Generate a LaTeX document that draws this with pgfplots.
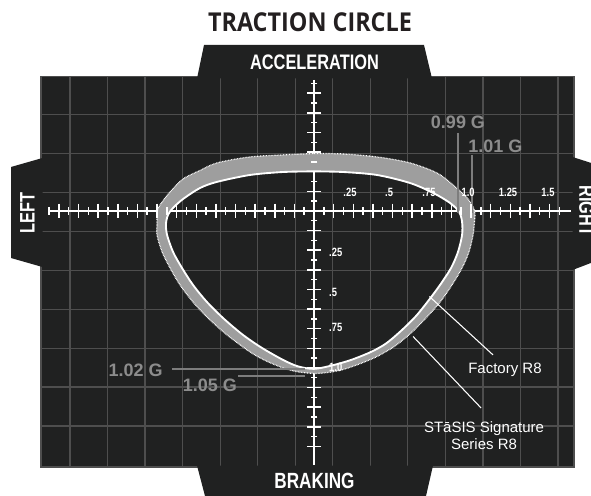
\documentclass[border=0pt]{standalone}
\usepackage{pgfplots}
\pgfplotsset{compat=1.18}
\usepackage{pgfplotstable}
\usepackage{fontspec}
\setmainfont{Liberation Sans}
\newfontfamily\titlefont[FakeStretch=0.9]{Open Sans}
\newfontfamily\condfont[FakeStretch=0.78]{Liberation Sans}

\definecolor{bg}{RGB}{32,33,33}
\definecolor{gridc}{RGB}{78,78,78}
\definecolor{bandc}{RGB}{158,158,158}
\definecolor{glab}{RGB}{140,140,140}
\definecolor{gline}{RGB}{125,125,125}
\definecolor{titlec}{RGB}{35,31,32}

% STaSIS Signature Series R8 (outer), lateral G vs longitudinal G
\pgfplotstableread{
x y
0 0.366
0.185 0.363
0.401 0.344
0.611 0.306
0.783 0.242
0.885 0.166
0.975 0.083
1.013 0.025
1.025 -0.013
1.022 -0.070
1.013 -0.153
0.987 -0.261
0.943 -0.363
0.879 -0.471
0.803 -0.580
0.713 -0.682
0.618 -0.777
0.516 -0.860
0.408 -0.924
0.299 -0.971
0.185 -1.010
0.089 -1.029
0 -1.035
-0.102 -1.025
-0.197 -1.000
-0.306 -0.955
-0.408 -0.898
-0.554 -0.790
-0.669 -0.688
-0.771 -0.580
-0.854 -0.471
-0.917 -0.363
-0.968 -0.261
-1.000 -0.153
-1.000 -0.083
-1.000 -0.006
-0.981 0.038
-0.917 0.121
-0.834 0.204
-0.726 0.258
-0.618 0.306
-0.408 0.344
-0.197 0.357
0 0.366
}\outer

% Factory R8 (inner)
\pgfplotstableread{
x y
0 0.252
0.185 0.248
0.401 0.229
0.611 0.178
0.758 0.115
0.866 0.051
0.924 -0.006
0.943 -0.070
0.943 -0.153
0.917 -0.261
0.873 -0.363
0.803 -0.471
0.732 -0.567
0.650 -0.669
0.554 -0.764
0.459 -0.844
0.363 -0.898
0.236 -0.949
0.115 -0.984
0 -1.006
-0.102 -0.990
-0.197 -0.949
-0.331 -0.873
-0.452 -0.790
-0.573 -0.688
-0.682 -0.580
-0.771 -0.471
-0.841 -0.363
-0.898 -0.261
-0.936 -0.153
-0.943 -0.083
-0.930 -0.025
-0.898 0.019
-0.834 0.076
-0.726 0.146
-0.618 0.185
-0.408 0.229
-0.197 0.248
0 0.252
}\inner

\pgfplotstableread{
x y
nan nan
}\gap
\pgfplotstablevertcat{\band}{\outer}
\pgfplotstablevertcat{\band}{\gap}
\pgfplotstablevertcat{\band}{\inner}

\begin{document}
\begin{tikzpicture}[
  tl/.style={font=\condfont\bfseries\fontsize{9}{9}\selectfont, text=white, inner sep=0pt},
  gl/.style={font=\bfseries\fontsize{13.5}{14}\selectfont, text=glab, inner sep=0pt},
  wl/.style={font=\fontsize{11.25}{12}\selectfont, text=white, inner sep=0pt},
]
\useasboundingbox (0,0) rectangle (443.25pt,-371.25pt);
\begin{axis}[
  at={(30.75pt,-350.25pt)}, anchor=south west,
  x=117.75pt, y=117.75pt,
  xmin=-1.739, xmax=1.656, ymin=-1.631, ymax=0.854,
  axis background/.style={fill=bg},
  axis line style={gridc, line width=0.9pt},
  xtick={-1.5542,-1.3151,-1.0760,-0.8369,-0.5978,-0.3587,-0.1196,0.1196,0.3587,0.5978,0.8369,1.0760,1.3151,1.5542},
  ytick={-1.370,-1.122,-0.874,-0.626,-0.378,-0.130,0.118,0.366,0.614},
  xticklabels={}, yticklabels={},
  major tick length=0pt,
  grid=major, grid style={gridc, line width=0.9pt},
  clip=false,
  unbounded coords=jump,
]
% cross
\addplot[white, line width=2pt] coordinates {(-1.694,0) (1.637,0)};
\addplot[white, line width=2pt] coordinates {(0,0.834) (0,-1.618)};
% horizontal ticks
\addplot[only marks, mark=|, mark size=5.4pt, mark options={white, line width=1.1pt}] coordinates {
(-1.625,0) (-1.5,0) (-1.375,0) (-1.25,0) (-1.125,0) (-1,0) (-0.875,0) (-0.75,0) (-0.625,0) (-0.5,0) (-0.375,0) (-0.25,0) (-0.125,0)
(0.125,0) (0.25,0) (0.375,0) (0.5,0) (0.625,0) (0.75,0) (0.875,0) (1,0) (1.125,0) (1.25,0) (1.375,0) (1.5,0)};
\addplot[only marks, mark=|, mark size=3pt, mark options={white, line width=1.1pt}] coordinates {
(-1.6875,0) (-1.5625,0) (-1.4375,0) (-1.3125,0) (-1.1875,0) (-1.0625,0) (-0.9375,0) (-0.8125,0) (-0.6875,0) (-0.5625,0) (-0.4375,0) (-0.3125,0) (-0.1875,0) (-0.0625,0)
(0.0625,0) (0.1875,0) (0.3125,0) (0.4375,0) (0.5625,0) (0.6875,0) (0.8125,0) (0.9375,0) (1.0625,0) (1.1875,0) (1.3125,0) (1.4375,0) (1.5625,0)};
% vertical ticks
\addplot[only marks, mark=-, mark size=5.4pt, mark options={white, line width=1.1pt}] coordinates {
(0,0.75) (0,0.625) (0,0.5) (0,0.375) (0,0.25) (0,0.125) (0,-0.125) (0,-0.25) (0,-0.375) (0,-0.5) (0,-0.625) (0,-0.75) (0,-0.875) (0,-1) (0,-1.125) (0,-1.25) (0,-1.375) (0,-1.5)};
\addplot[only marks, mark=-, mark size=2.6pt, mark options={white, line width=1.1pt}] coordinates {
(0,0.8125) (0,0.6875) (0,0.5625) (0,0.4375) (0,0.3125) (0,0.1875) (0,0.0625) (0,-0.0625) (0,-0.1875) (0,-0.3125) (0,-0.4375) (0,-0.5625) (0,-0.6875) (0,-0.8125) (0,-0.9375) (0,-1.0625) (0,-1.1875) (0,-1.3125) (0,-1.4375)};
% band between the two curves
\addplot[fill=bandc, draw=none, even odd rule, smooth] table {\band};
\addplot[white, line width=1.4pt, smooth] table {\inner};
\addplot[white, line width=0.9pt, dash pattern=on 0.55pt off 0.6pt, smooth] table {\outer};
% leaders
\addplot[gline, line width=1.1pt] coordinates {(0.917,0.497) (0.917,-0.013)};
\addplot[gline, line width=1.1pt] coordinates {(1.006,0.357) (1.006,-0.013)};
\addplot[gline, line width=1.1pt] coordinates {(-0.904,-1.006) (-0.057,-1.006)};
\addplot[gline, line width=1.1pt] coordinates {(-0.484,-1.051) (-0.057,-1.051)};
\addplot[white, line width=0.8pt] coordinates {(0.735,-0.545) (1.140,-0.917)};
\addplot[white, line width=0.8pt] coordinates {(0.631,-0.800) (1.064,-1.255)};
% tick labels
\node[tl] at (axis cs:0.229,0.121) {.25};
\node[tl] at (axis cs:0.478,0.121) {.5};
\node[tl] at (axis cs:0.732,0.121) {.75};
\node[tl] at (axis cs:0.981,0.121) {1.0};
\node[tl] at (axis cs:1.236,0.121) {1.25};
\node[tl] at (axis cs:1.490,0.121) {1.5};
\node[tl, anchor=west] at (axis cs:0.095,-0.261) {.25};
\node[tl, anchor=west] at (axis cs:0.095,-0.516) {.5};
\node[tl, anchor=west] at (axis cs:0.095,-0.745) {.75};
\node[tl, anchor=west] at (axis cs:0.095,-0.994) {1.0};
% value labels
\node[gl] at (axis cs:0.917,0.564) {0.99 G};
\node[gl, anchor=west] at (axis cs:0.981,0.411) {1.01 G};
\node[gl, anchor=east] at (axis cs:-0.962,-1.013) {1.02 G};
\node[gl, anchor=east] at (axis cs:-0.490,-1.108) {1.05 G};
\node[wl, anchor=base] at (axis cs:1.216,-1.034) {Factory R8};
\node[wl, anchor=base] at (axis cs:1.083,-1.414) {STāSIS Signature};
\node[wl, anchor=base] at (axis cs:1.083,-1.522) {Series R8};
\end{axis}
\begin{scope}[x=0.75pt, y=-0.75pt]
\fill[bg] (197,78.5) -- (204,45) -- (424,45) -- (432,78.5) -- cycle;
\fill[bg] (197,465.5) -- (205,496) -- (426,496) -- (433,465.5) -- cycle;
\fill[bg] (11,167) -- (42.5,158) -- (42.5,267) -- (11,258) -- cycle;
\fill[bg] (572.5,157) -- (596,164.5) -- (596,261) -- (572.5,270) -- cycle;
\node[font=\titlefont\bfseries\fontsize{19.5}{20}\selectfont, text=titlec, inner sep=0pt] at (310,22) {TRACTION CIRCLE};
\node[font=\condfont\bfseries\fontsize{15.75}{16}\selectfont, text=white, inner sep=0pt] at (314.5,62.5) {ACCELERATION};
\node[font=\condfont\bfseries\fontsize{16.5}{17}\selectfont, text=white, inner sep=0pt] at (314.5,480.5) {BRAKING};
\node[font=\condfont\bfseries\fontsize{15.75}{16}\selectfont, text=white, inner sep=0pt, rotate=90] at (27.5,213) {LEFT};
\node[font=\condfont\bfseries\fontsize{15.75}{16}\selectfont, text=white, inner sep=0pt, rotate=-90] at (586.5,211) {RIGHT};
\end{scope}
\end{tikzpicture}
\end{document}
